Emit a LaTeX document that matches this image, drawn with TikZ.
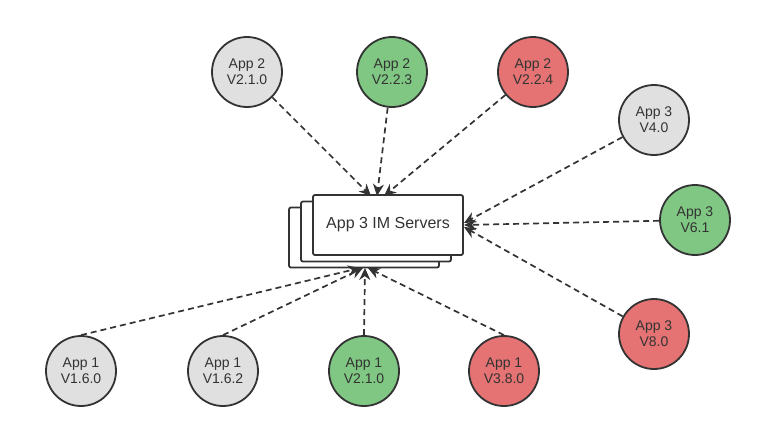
\documentclass[tikz,border=0pt]{standalone}
\usepackage{fontspec}
\setmainfont{Liberation Sans}
\usetikzlibrary{arrows.meta}
\definecolor{lc}{HTML}{333333}
\definecolor{cgray}{HTML}{E0E0E0}
\definecolor{cgreen}{HTML}{7FC782}
\definecolor{cred}{HTML}{E57373}
\tikzset{
  ver/.style={circle, draw=lc, line width=1.8pt, minimum size=70pt, inner sep=0pt, align=center, font=\fontsize{14}{16}\selectfont, text=lc},
  gray/.style={ver, fill=cgray},
  green/.style={ver, fill=cgreen},
  red/.style={ver, fill=cred},
  srvbox/.style={draw=lc, fill=white, line width=1.8pt, rounded corners=2pt, minimum width=150pt, minimum height=60pt, inner sep=0pt},
  conn/.style={draw=lc, line width=1.7pt, dash pattern=on 6pt off 4pt, -{Stealth[length=12pt,width=11pt]}}
}
\begin{document}
\begin{tikzpicture}[x=1pt,y=-1pt]
\useasboundingbox (0,0) rectangle (782,440);
% server stack
\node[srvbox] (srvc) at (364,237.5) {};
\node[srvbox] (srvb) at (376,231.5) {};
\node[srvbox, font=\fontsize{16}{18}\selectfont, text=lc] (srv) at (388,225) {App 3 IM Servers};
% endpoints
\coordinate (t1) at (371,196);
\coordinate (t2) at (377,196);
\coordinate (t3) at (384,196);
\coordinate (r1) at (464,223);
\coordinate (r2) at (464,225);
\coordinate (r3) at (464,227);
\coordinate (b1) at (360,268);
\coordinate (b2) at (363,268);
\coordinate (b3) at (365,268);
\coordinate (b4) at (368,268);
% version nodes
\node[gray]  (a21) at (247,72) {App 2\\V2.1.0};
\node[green] (a22) at (392,72) {App 2\\V2.2.3};
\node[red]   (a24) at (533,72) {App 2\\V2.2.4};
\node[gray]  (b40) at (654,120) {App 3\\V4.0};
\node[green] (b61) at (695,220) {App 3\\V6.1};
\node[red]   (b80) at (654,334) {App 3\\V8.0};
\node[gray]  (c160) at (81,371) {App 1\\V1.6.0};
\node[gray]  (c162) at (223,371) {App 1\\V1.6.2};
\node[green] (c210) at (364,371) {App 1\\V2.1.0};
\node[red]   (c380) at (504,371) {App 1\\V3.8.0};
% connectors
\draw[conn] (a21) -- (t1);
\draw[conn] (a22) -- (t2);
\draw[conn] (a24) -- (t3);
\draw[conn] (b40) -- (r1);
\draw[conn] (b61) -- (r2);
\draw[conn] (b80) -- (r3);
\draw[conn] (c160.north) -- (b1);
\draw[conn] (c162.north) -- (b2);
\draw[conn] (c210.north) -- (b3);
\draw[conn] (c380.north) -- (b4);
\end{tikzpicture}
\end{document}
